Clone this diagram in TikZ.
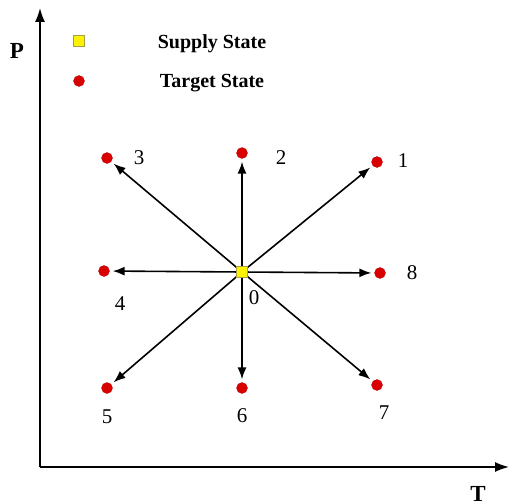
\documentclass[tikz,border=0pt]{standalone}
\usepackage{fontspec}
\setmainfont{Liberation Serif}
\usetikzlibrary{arrows.meta}
\begin{document}
\begin{tikzpicture}[x=1pt,y=-1pt,
  target/.style={circle,fill=red!85!black,draw=red!70!black,line width=0.3pt,inner sep=0pt,minimum size=11pt},
  supply/.style={rectangle,fill=yellow,draw=yellow!60!black,line width=0.3pt,inner sep=0pt,minimum size=11pt},
  num/.style={font=\fontsize{21}{21}\selectfont,inner sep=0pt},
  legend/.style={font=\fontsize{20}{20}\selectfont\bfseries,inner sep=0pt},
  axis/.style={line width=1.6pt,-{Latex[length=14pt,width=10pt]}},
  conn/.style={line width=1.6pt,-{Latex[length=12pt,width=9pt]},shorten >=3pt}]
\useasboundingbox (0,0) rectangle (509,503);
% axes
\coordinate (O) at (40,467);
\coordinate (Ptop) at (40,8);
\coordinate (Tend) at (509,467);
\draw[axis] (O) -- (Ptop);
\draw[axis] (O) -- (Tend);
\node[font=\fontsize{23}{23}\selectfont\bfseries,inner sep=0pt] (P) at (17,51) {P};
\node[font=\fontsize{23}{23}\selectfont\bfseries,inner sep=0pt] (T) at (478,494) {T};
% legend
\node[supply] (ls) at (79,41) {};
\node[target] (lt) at (79,81) {};
\node[legend] (lst) at (212,44) {Supply State};
\node[legend] (ltt) at (212,83) {Target State};
% points
\node[target] (p1) at (377,162) {};
\node[target] (p2) at (242,153) {};
\node[target] (p3) at (107,158) {};
\node[target] (p4) at (104,271) {};
\node[target] (p5) at (107,388) {};
\node[target] (p6) at (242,388) {};
\node[target] (p7) at (377,385) {};
\node[target] (p8) at (380,273) {};
\node[supply] (p0) at (242,272) {};
% connectors
\foreach \t in {p1,p2,p3,p4,p5,p6,p7,p8}{
  \draw[conn] (p0.center) -- (\t);
}
\node[supply] at (242,272) {};
% labels
\node[num] (l1) at (403,161) {1};
\node[num] (l2) at (281,158) {2};
\node[num] (l3) at (139,158) {3};
\node[num] (l4) at (120,304) {4};
\node[num] (l5) at (107,417) {5};
\node[num] (l6) at (242,416) {6};
\node[num] (l7) at (384,413) {7};
\node[num] (l8) at (412,273) {8};
\node[num] (l0) at (254,298) {0};
\end{tikzpicture}
\end{document}
